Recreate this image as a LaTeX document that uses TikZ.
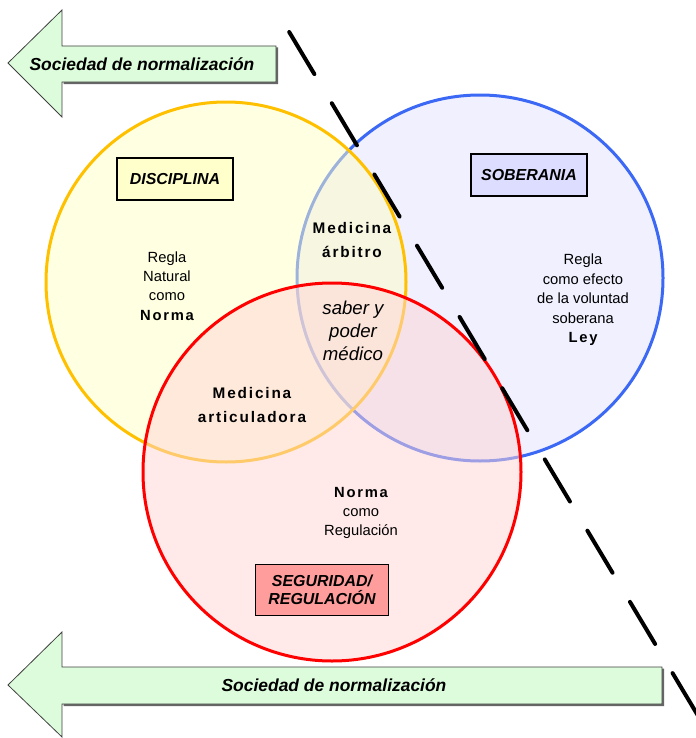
\documentclass[tikz,border=0pt]{standalone}
\usepackage{fontspec}
\setmainfont{Liberation Sans}
\newfontfamily\spaced[LetterSpace=12]{Liberation Sans}
\usetikzlibrary{calc}

\definecolor{flechaverde}{HTML}{DCFCDC}
\definecolor{amarillo}{HTML}{FFC000}
\definecolor{amarillofondo}{HTML}{FFFFC4}
\definecolor{azul}{HTML}{3B68F4}
\definecolor{azulfondo}{HTML}{F0F0FF}
\definecolor{rojo}{HTML}{FF0000}
\definecolor{rojofondo}{HTML}{FFD4D4}
\definecolor{cajaamarilla}{HTML}{FFFFCC}
\definecolor{cajaazul}{HTML}{DDDDFF}
\definecolor{cajaroja}{HTML}{FF9C9C}

\begin{document}
\begin{tikzpicture}[x=1bp,y=-1bp,
    flecha/.style={draw=black!75, line width=0.8bp, fill=flechaverde},
    sombra/.style={fill=black!60},
    circulo/.style={line width=3bp},
    caja/.style={draw=black, line width=1.6bp, inner xsep=6bp, minimum height=42bp,
        font=\fontsize{16}{18}\selectfont\bfseries\itshape},
    texto/.style={align=center, font=\fontsize{14.8}{19.5}\selectfont},
    titulo/.style={align=center, font=\fontsize{15.4}{23.5}\selectfont\spaced\bfseries},
    lema/.style={font=\fontsize{17.5}{20}\selectfont\bfseries\itshape}]

	\useasboundingbox (0,0) rectangle (696,738);

	% centres of the three circles
	\coordinate (Y) at (226,282);
	\coordinate (B) at (480,278);
	\coordinate (R) at (332,472);

	% circles
	\draw[circulo, draw=azul, fill=azulfondo] (B) circle (183);
	\draw[circulo, draw=amarillo, fill=amarillofondo, fill opacity=0.5] (Y) circle (180);
	\draw[circulo, draw=rojo, fill=rojofondo, fill opacity=0.5] (R) circle (189);

	% dashed border line
	\coordinate (d1) at (289.2,32);
	\coordinate (d2) at (700,719);
	\draw[line width=4bp, line cap=round, dash pattern=on 49bp off 34bp] (d1) -- (d2);

	% arrows
	\fill[sombra] (63.5,84) -- (278,84) -- (278,47.5) -- (276,47.5) -- (276,82) -- (63.5,82) -- cycle;
	\draw[flecha] (8,63) -- (62,10) -- (62,46) -- (276,46) -- (276,82) -- (62,82) -- (62,117) -- cycle;
	\fill[sombra] (63.5,706) -- (664,706) -- (664,668.5) -- (662,668.5) -- (662,704) -- (63.5,704) -- cycle;
	\draw[flecha] (8,685) -- (62,632) -- (62,667) -- (662,667) -- (662,704) -- (62,704) -- (62,737) -- cycle;

	\node[lema] (arriba) at (142,64) {Sociedad de normalización};
	\node[lema] (abajo) at (334,685) {Sociedad de normalización};

	% boxes
	\node[caja, fill=cajaamarilla, minimum width=116bp] (disciplina) at (175,179) {DISCIPLINA};
	\node[caja, fill=cajaazul, minimum width=116bp] (soberania) at (529,175) {SOBERANIA};
	\node[caja, fill=cajaroja, minimum width=133bp, minimum height=51bp, align=center,
	      font=\fontsize{16}{18.5}\selectfont\bfseries\itshape] (seguridad) at (322,590)
	      {SEGURIDAD/\\REGULACIÓN};

	% texts
	\node[texto] (natural) at (167,286) {Regla\\Natural\\como\\{\spaced\bfseries Norma}};
	\node[texto] (ley) at (583,300) {Regla\\como efecto\\de la voluntad\\soberana\\{\spaced\bfseries Ley}};
	\node[texto] (regulacion) at (361,513) {{\spaced\bfseries Norma}\\como\\Regulación};

	\node[titulo] (arbitro) at (352,240) {Medicina\\árbitro};
	\node[titulo] (articuladora) at (252,405) {Medicina\\articuladora};
	\node[align=center, font=\fontsize{18.7}{23}\selectfont\itshape] (saber) at (353,331)
	      {saber y\\poder\\médico};

\end{tikzpicture}
\end{document}
